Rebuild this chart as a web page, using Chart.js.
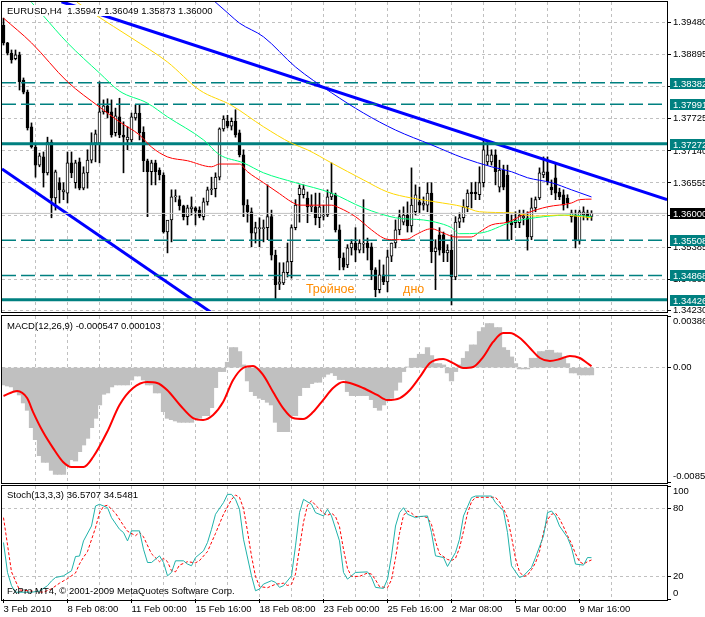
<!DOCTYPE html>
<html>
<head>
<meta charset="utf-8">
<title>EURUSD,H4</title>
<script src="https://cdn.jsdelivr.net/npm/chart.js@4.4.1/dist/chart.umd.min.js"></script>
<style>
  html, body { margin: 0; padding: 0; background: #ffffff; }
  #wrap { position: relative; width: 705px; height: 617px; overflow: hidden; background: #ffffff; }
  #wrap canvas { position: absolute; left: 0; }
</style>
</head>
<body>
<div id="wrap">
  <canvas id="stochChart" width="705" height="134" style="top:483px"></canvas>
  <canvas id="macdChart" width="705" height="172" style="top:312px"></canvas>
  <canvas id="priceChart" width="705" height="320" style="top:0"></canvas>
</div>
<script>
// --- DATA (H4 bars from 3 Feb 2010 16:00) ---
const dateLabels = ['3 Feb 2010', '8 Feb 08:00', '11 Feb 00:00', '15 Feb 16:00', '18 Feb 08:00',
  '23 Feb 00:00', '25 Feb 16:00', '2 Mar 08:00', '5 Mar 00:00', '9 Mar 16:00'];

const openP = [1.3943,1.3911,1.3892,1.3882,1.3889,1.3843,1.3821,1.3758,1.3721,1.3688,
  1.3703,1.3674,1.3730,1.3628,1.3656,1.3639,1.3637,1.3692,1.3656,1.3694,
  1.3646,1.3674,1.3697,1.3728,1.3728,1.3785,1.3796,1.3785,1.3747,1.3776,
  1.3743,1.3734,1.3734,1.3774,1.3783,1.3748,1.3696,1.3676,1.3692,1.3679,
  1.3670,1.3566,1.3588,1.3630,1.3625,1.3614,1.3594,1.3608,1.3610,1.3606,
  1.3594,1.3621,1.3643,1.3645,1.3666,1.3754,1.3768,1.3759,1.3768,1.3747,
  1.3707,1.3615,1.3603,1.3564,1.3572,1.3572,1.3574,1.3594,1.3524,1.3471,
  1.3473,1.3492,1.3512,1.3574,1.3634,1.3634,1.3628,1.3612,1.3612,1.3592,
  1.3595,1.3597,1.3630,1.3634,1.3570,1.3519,1.3506,1.3537,1.3546,1.3533,
  1.3544,1.3546,1.3539,1.3497,1.3461,1.3488,1.3475,1.3522,1.3546,1.3570,
  1.3584,1.3597,1.3577,1.3603,1.3621,1.3615,1.3615,1.3637,1.3530,1.3561,
  1.3561,1.3528,1.3533,1.3484,1.3584,1.3592,1.3612,1.3639,1.3639,1.3634,
  1.3656,1.3694,1.3694,1.3707,1.3648,1.3679,1.3670,1.3584,1.3583,1.3583,
  1.3592,1.3592,1.3557,1.3610,1.3628,1.3670,1.3676,1.3648,1.3665,1.3639,
  1.3634,1.3628,1.3594,1.3597,1.3550,1.3597,1.3601,1.35947];
const highP = [1.3956,1.3912,1.3898,1.3898,1.3894,1.3847,1.3825,1.3765,1.3725,1.3710,
  1.3712,1.3739,1.3734,1.3679,1.3665,1.3656,1.3712,1.3712,1.3697,1.3701,
  1.3685,1.3716,1.3747,1.3752,1.3840,1.3807,1.3809,1.3807,1.3792,1.3810,
  1.3767,1.3758,1.3783,1.3798,1.3798,1.3758,1.3699,1.3697,1.3697,1.3683,
  1.3674,1.3584,1.3643,1.3643,1.3632,1.3615,1.3615,1.3630,1.3612,1.3612,
  1.3628,1.3648,1.3666,1.3674,1.3756,1.3778,1.3779,1.3774,1.3789,1.3752,
  1.3716,1.3625,1.3610,1.3584,1.3592,1.3588,1.3652,1.3606,1.3533,1.3510,
  1.3510,1.3546,1.3579,1.3625,1.3652,1.3652,1.3639,1.3634,1.3637,1.3637,
  1.3615,1.3643,1.3692,1.3637,1.3579,1.3528,1.3543,1.3552,1.3574,1.3552,
  1.3625,1.3555,1.3546,1.3501,1.3515,1.3506,1.3533,1.3546,1.3588,1.3606,
  1.3612,1.3621,1.3683,1.3652,1.3648,1.3630,1.3656,1.3656,1.3552,1.3574,
  1.3566,1.3543,1.3561,1.3594,1.3601,1.3625,1.3643,1.3656,1.3657,1.3685,
  1.3734,1.3730,1.3716,1.3716,1.3697,1.3688,1.3688,1.3597,1.3603,1.3606,
  1.3606,1.3603,1.3628,1.3630,1.3683,1.3703,1.3703,1.3661,1.3692,1.3646,
  1.3643,1.3634,1.3606,1.3606,1.3606,1.3612,1.3606,1.36049];
const lowP = [1.3907,1.3889,1.3874,1.3880,1.3825,1.3818,1.3752,1.3719,1.3666,1.3685,
  1.3648,1.3670,1.3592,1.3606,1.3619,1.3625,1.3619,1.3665,1.3646,1.3643,
  1.3643,1.3646,1.3692,1.3694,1.3692,1.3781,1.3774,1.3739,1.3741,1.3738,
  1.3674,1.3716,1.3730,1.3770,1.3734,1.3676,1.3594,1.3652,1.3652,1.3661,
  1.3564,1.3528,1.3548,1.3621,1.3606,1.3588,1.3579,1.3597,1.3579,1.3592,
  1.3588,1.3615,1.3634,1.3630,1.3661,1.3750,1.3756,1.3752,1.3739,1.3703,
  1.3594,1.3584,1.3539,1.3546,1.3539,1.3548,1.3552,1.3515,1.3442,1.3461,
  1.3470,1.3484,1.3482,1.3570,1.3584,1.3628,1.3583,1.3603,1.3579,1.3574,
  1.3588,1.3594,1.3625,1.3566,1.3497,1.3497,1.3501,1.3524,1.3512,1.3528,
  1.3528,1.3515,1.3479,1.3448,1.3455,1.3470,1.3457,1.3512,1.3537,1.3561,
  1.3579,1.3566,1.3566,1.3597,1.3601,1.3606,1.3603,1.3510,1.3461,1.3524,
  1.3512,1.3512,1.3433,1.3479,1.3574,1.3584,1.3603,1.3610,1.3625,1.3625,
  1.3648,1.3688,1.3688,1.3652,1.3639,1.3643,1.3552,1.3552,1.3574,1.3574,
  1.3579,1.3533,1.3552,1.3603,1.3625,1.3665,1.3652,1.3634,1.3625,1.3625,
  1.3606,1.3610,1.3584,1.3537,1.3544,1.3588,1.3588,1.35873];
const closeP = [1.3911,1.3892,1.3880,1.3889,1.3840,1.3821,1.3756,1.3721,1.3688,1.3705,
  1.3674,1.3730,1.3628,1.3676,1.3643,1.3643,1.3692,1.3674,1.3692,1.3646,
  1.3674,1.3697,1.3728,1.3745,1.3785,1.3796,1.3783,1.3743,1.3778,1.3743,
  1.3739,1.3739,1.3776,1.3783,1.3747,1.3696,1.3676,1.3692,1.3676,1.3670,
  1.3566,1.3588,1.3630,1.3632,1.3614,1.3594,1.3610,1.3612,1.3604,1.3595,
  1.3621,1.3643,1.3645,1.3666,1.3754,1.3772,1.3759,1.3768,1.3743,1.3707,
  1.3615,1.3603,1.3564,1.3574,1.3574,1.3574,1.3594,1.3524,1.3470,1.3475,
  1.3493,1.3512,1.3574,1.3615,1.3646,1.3645,1.3612,1.3614,1.3592,1.3612,
  1.3597,1.3630,1.3637,1.3570,1.3519,1.3502,1.3537,1.3546,1.3533,1.3546,
  1.3546,1.3537,1.3497,1.3461,1.3488,1.3475,1.3521,1.3546,1.3570,1.3594,
  1.3597,1.3577,1.3615,1.3634,1.3615,1.3619,1.3637,1.3530,1.3537,1.3533,
  1.3528,1.3533,1.3484,1.3584,1.3592,1.3612,1.3637,1.3636,1.3636,1.3656,
  1.3716,1.3707,1.3707,1.3676,1.3679,1.3648,1.3583,1.3579,1.3588,1.3597,
  1.3595,1.3557,1.3610,1.3625,1.3674,1.3676,1.3657,1.3643,1.3637,1.3630,
  1.3615,1.3619,1.3601,1.3550,1.3603,1.3603,1.3592,1.36000];

// moving averages, sampled as [bar, price]
const maRed = [[0,1.3956],[7,1.3911],[16,1.3840],[24,1.3794],[29,1.3767],[34,1.3743],[37,1.3721],
  [41,1.3703],[46,1.3696],[52,1.3685],[54,1.3690],[59,1.3690],[61,1.3676],[65,1.3656],[69,1.3636],
  [72,1.3621],[74,1.3615],[82,1.3615],[84,1.3610],[88,1.3594],[92,1.3570],[95,1.3555],[97,1.3552],
  [101,1.3553],[103,1.3561],[107,1.3572],[110,1.3564],[113,1.3557],[117,1.3557],[119,1.3566],
  [122,1.3579],[126,1.3584],[131,1.3601],[136,1.3612],[142,1.3619],[144,1.3625],[147,1.3626]];
const maGreen = [[7,1.3985],[10,1.3960],[16,1.3911],[24,1.3856],[29,1.3823],[36,1.3801],[41,1.3776],
  [50,1.3734],[54,1.3707],[60,1.3692],[65,1.3674],[73,1.3656],[82,1.3637],[90,1.3610],[98,1.3592],
  [105,1.3588],[108,1.3584],[112,1.3574],[114,1.3563],[119,1.3564],[127,1.3584],[135,1.3594],
  [142,1.3597],[147,1.3594]];
const maYellow = [[18.4,1.3985],[23,1.3962],[32,1.3920],[41,1.3876],[49,1.3825],[57,1.3797],
  [65,1.3758],[72,1.3728],[76,1.3716],[82,1.3692],[90,1.3661],[96,1.3639],[102,1.3628],
  [108,1.3621],[115,1.3612],[119,1.3603],[127,1.3601],[133,1.3595],[139,1.3597],[147,1.3592]];
const maBlue = [[52.4,1.3989],[56.6,1.3962],[59,1.3947],[65,1.3922],[73,1.3867],[82,1.3820],
  [90,1.3783],[98,1.3752],[107,1.3725],[115,1.3701],[122,1.3685],[127,1.3676],[131,1.3665],
  [137,1.3656],[142,1.3643],[147,1.3630]];

// drawn objects: trend lines [bar, price] and horizontal levels
const trendUpper = [[14.5,1.3986],[165.875,1.3625]];
const trendLower = [[-0.375,1.3681],[52,1.3419]];
const solidLevels = [1.37272, 1.34426];
const dashedLevels = [1.38382, 1.37991, 1.35508, 1.34868];
const bidPrice = 1.36000;
const priceTicks = [1.39480, 1.38895, 1.38310, 1.37725, 1.37140, 1.36555, 1.35970, 1.35385, 1.34800, 1.34230];
const patternNotes = [{ text: 'Тройное', bar: 75.6, price: 1.3455 }, { text: 'дно', bar: 99.9, price: 1.3455 }];

// MACD(12,26,9): histogram per bar, signal sampled as [bar, value]
const macdHist = [-0.0013,-0.00138,-0.00145,-0.00183,-0.00205,-0.00265,-0.0032,-0.0045,-0.0054,-0.0066,
  -0.0071,-0.0071,-0.0077,-0.0080,-0.0080,-0.0080,-0.0073,-0.0069,-0.0070,-0.0063,
  -0.0058,-0.0053,-0.0045,-0.0038,-0.0028,-0.0020,-0.0019,-0.00145,-0.0013,-0.0013,
  -0.0013,-0.0013,-0.00093,-0.00063,-0.00063,-0.00093,-0.0013,-0.0013,-0.0019,-0.0019,
  -0.0033,-0.0038,-0.0039,-0.0040,-0.0041,-0.0041,-0.0041,-0.0041,-0.0038,-0.0038,
  -0.0036,-0.0036,-0.0030,-0.0015,-0.0003,-0.0003,0.0004,0.0015,0.0015,0.0012,
  0.0002,-0.0010,-0.0018,-0.0021,-0.0023,-0.0024,-0.0026,-0.0028,-0.0041,-0.0048,
  -0.0048,-0.0048,-0.0036,-0.0036,-0.0021,-0.0015,-0.0015,-0.0012,-0.0011,-0.0011,
  -0.0007,-0.0005,-0.0004,-0.0006,-0.0009,-0.0009,-0.0018,-0.0021,-0.0021,-0.0021,
  -0.0021,-0.0021,-0.0024,-0.0030,-0.0032,-0.0028,-0.0025,-0.0023,-0.0017,-0.0011,
  -0.0003,0.00005,0.0007,0.0007,0.0010,0.0010,0.0015,0.0009,0.0003,0.0003,
  0.0002,-0.0004,-0.0010,-0.0003,0.0002,0.0007,0.0012,0.0017,0.0017,0.0027,
  0.0030,0.0033,0.0033,0.0030,0.0030,0.0015,0.0013,0.0008,0.0003,-0.0001,
  -0.0001,-0.0001,0.0007,0.0007,0.0012,0.0012,0.0013,0.0013,0.0011,0.0011,
  0.0008,0.0003,-0.0004,-0.0004,-0.00055,-0.00055,-0.00055,-0.000547];
const macdSignal = [[0,-0.00213],[3.4,-0.00175],[5.9,-0.00228],[7.4,-0.00333],[9.9,-0.00483],
  [12.4,-0.00603],[14.9,-0.00707],[17,-0.00745],[20,-0.00745],[22.4,-0.0067],[25.9,-0.00483],
  [29,-0.0028],[32.4,-0.00153],[35.9,-0.00108],[38.4,-0.00115],[40.9,-0.00168],[44.1,-0.0028],
  [47.4,-0.00378],[49.9,-0.00392],[52.4,-0.00355],[54.9,-0.00258],[57.4,-0.00093],[59.9,-0.00003],
  [62.4,0.00012],[64.9,-0.00055],[67.4,-0.00183],[69.9,-0.00303],[72.4,-0.00378],[74.9,-0.00385],
  [77.4,-0.00333],[79.9,-0.00243],[82.4,-0.00153],[84.9,-0.00108],[86.6,-0.00115],[89.9,-0.00153],
  [93.4,-0.00205],[95.9,-0.00243],[99.1,-0.00228],[101.6,-0.00168],[104.1,-0.0007],[106.6,0.00034],
  [109.9,0.00064],[112.4,0.00034],[114.9,-0.00003],[117.4,0.00005],[119.9,0.00079],[122.4,0.00192],
  [124.9,0.00259],[126.6,0.00259],[129.1,0.00222],[131.6,0.00147],[134.1,0.00072],[136.6,0.00049],
  [139.1,0.00064],[141.6,0.00087],[144.1,0.00072],[145.9,0.00034],[147,0.000103]];
const macdTicks = [0.003865, 0, -0.00857];
const macdTickLabels = ['0.003865', '0.00', '-0.00857'];

// Stoch(13,3,3): %K and %D sampled as [bar, value]
const stochK = [[0,50],[1,23.5],[2,11.8],[3,6],[7,6],[9,7],[11,11.8],[12,16],[13,19],[15,20.5],[17,25],
  [18,37.6],[19,38],[20,51.4],[22,64.6],[23,82.3],[24,83.8],[26,80.8],[27,72],[29,61.7],[30,58.8],
  [31,51.4],[32,60.3],[34,60.3],[35,44],[36,32.3],[37,32.3],[39,38.2],[40,32.3],[41,20.5],[42,23.5],
  [43,33.8],[45,33.8],[46,30.9],[47,29.4],[48,36.7],[50,42.6],[51,50],[52,61.7],[53,75],[55,85.3],
  [56,92.6],[57,92.6],[58,88.2],[59,79.4],[60,52.9],[62,20.5],[63,7.3],[64,8.8],[65,13.2],[67,16.2],
  [68,14.7],[69,10.3],[70,11.8],[72,20.5],[73,47],[74,76.4],[75,88.2],[77,83.8],[78,76.4],[80,73.5],
  [81,79.4],[82,73.5],[84,51.4],[85,23.5],[86,17.6],[88,23.5],[91,24],[92,19],[93,10.3],[95,9.4],
  [96,17.6],[97,38.2],[98,64.6],[99,76.4],[100,80.8],[101,75],[103,72],[104,73],[106,73.5],[107,58.8],
  [108,38.2],[110,36.7],[111,28.8],[113,41.2],[114,52.9],[115,73.5],[117,89.7],[118,91.1],[122,91.1],
  [123,85.3],[125,77.9],[126,58.8],[127,29.4],[129,19],[130,20.5],[132,27.9],[133,36.7],[135,55.8],
  [136,76.4],[137,77.9],[138,73.5],[139,64.6],[141,54.4],[142,45.6],[143,30.9],[145,30],[146,36.7],
  [147,36.57]];
const stochD = [[0,72],[2,24],[4,8],[10,6],[12,9],[14,14],[16,18],[18,23],[19,31],[20,37],[21,42],
  [23,63],[24,76],[25,82],[26,83],[28,76],[30,65],[31,60],[33,56],[34,59],[35,55],[37,40],[39,33],
  [40,36],[41,33],[42,25],[43,24],[44,30],[46,33],[48,32],[49,34],[51,42],[53,58],[55,75],[57,88],
  [58,92],[59,90],[60,80],[61,60],[62,38],[63,20],[64,11],[66,10],[68,13],[70,14],[71,12],[72,13],
  [73,22],[74,45],[75,68],[76,83],[77,87],[78,83],[80,76],[81,74],[82,76],[83,73],[84,64],[85,44],
  [86,27],[87,20],[89,20],[91,23],[92,22],[93,17],[94,11],[96,10],[97,17],[98,36],[99,58],[100,74],
  [101,78],[102,76],[103,73],[105,73],[106,72],[107,66],[108,51],[109,40],[111,35],[112,34],[113,36],
  [114,45],[115,60],[116,76],[117,86],[118,90],[123,90],[124,86],[125,80],[126,72],[127,55],[128,36],
  [129,24],[130,20],[131,21],[132,26],[133,32],[134,42],[135,59],[136,70],[137,75],[138,76],[139,71],
  [140,64],[141,56],[142,49],[143,40],[144,33],[145,31],[146,33],[147,34.55]];
const stochTicks = [100, 80, 20, 0];

const priceTitle = 'EURUSD,H4  1.35947 1.36049 1.35873 1.36000';
const macdTitle = 'MACD(12,26,9) -0.000547 0.000103';
const stochTitle = 'Stoch(13,3,3) 36.5707 34.5481';
const footerText = 'FxPro MT4, © 2001-2009 MetaQuotes Software Corp.';

// --- SHARED SETTINGS ---
const FONT = '"Liberation Sans", Arial, sans-serif';
const FONT_SIZE = 9.5;
const GRID = '#c0c0c0';
const NONE = 'rgba(0,0,0,0)';
const TEAL = '#008080';
const X_MIN = -0.375, X_MAX = 165.875;
const GRID_STEP = 8, LABEL_STEP = 16;

Chart.defaults.font.family = FONT;
Chart.defaults.font.size = FONT_SIZE;
Chart.defaults.color = '#000';

const gridBars = [];
for (let b = 0; b <= X_MAX; b += GRID_STEP) gridBars.push(b);

const pts = arr => arr.map(([x, y]) => ({ x, y }));

function xAxis(withLabels) {
  return {
    type: 'linear', min: X_MIN, max: X_MAX, offset: false,
    afterBuildTicks: s => { s.ticks = gridBars.map(v => ({ value: v })); },
    afterFit: s => { s.height = withLabels ? 18 : 0; s.paddingLeft = 0; s.paddingRight = 0; },
    grid: {
      offset: false,
      color: c => (c.tick && c.tick.value > 0 ? GRID : NONE),
      drawTicks: withLabels, tickLength: 4,
      tickColor: c => (c.tick && c.tick.value % LABEL_STEP === 0 ? '#000' : NONE)
    },
    border: { display: false, dash: [3, 3] },
    ticks: {
      display: withLabels, autoSkip: false, maxRotation: 0, align: 'start', padding: 1,
      callback: v => (v % LABEL_STEP === 0 ? dateLabels[v / LABEL_STEP] : '')
    }
  };
}

function yAxis(min, max, tickVals, label, showGrid) {
  return {
    position: 'right', min, max, beginAtZero: false,
    afterBuildTicks: s => { s.ticks = tickVals.map(v => ({ value: v })); },
    afterFit: s => { s.width = 38; s.paddingTop = 0; s.paddingBottom = 0; },
    grid: {
      color: c => (c.tick && showGrid(c.tick.value) ? GRID : NONE),
      tickLength: 4, tickColor: '#000'
    },
    border: { display: false, dash: [3, 3] },
    ticks: { padding: 2, autoSkip: false, callback: label }
  };
}

function baseOptions(padding, x, y, plugin) {
  return {
    responsive: false, animation: false, devicePixelRatio: 1, events: [],
    layout: { padding },
    plugins: { legend: { display: false }, tooltip: { enabled: false } },
    scales: { x, y }
  };
}

function frame(ctx, area) {
  ctx.save();
  ctx.strokeStyle = '#000';
  ctx.lineWidth = 1;
  ctx.strokeRect(area.left - 0.5, area.top - 0.5, area.right - area.left + 1, area.bottom - area.top + 2);
  ctx.restore();
}

function text(ctx, str, x, y, color, size, bg) {
  ctx.save();
  ctx.font = size + 'px ' + FONT;
  if (bg) {
    ctx.fillStyle = bg;
    ctx.fillRect(x - 2, y - size + 0.5, ctx.measureText(str).width + 4, size + 1.5);
  }
  ctx.fillStyle = color;
  ctx.textBaseline = 'alphabetic';
  ctx.fillText(str, x, y);
  ctx.restore();
}

function lineSet(data, color, width, extra) {
  return Object.assign({
    type: 'line', data: pts(data), borderColor: color, borderWidth: width,
    pointRadius: 0, fill: false, order: 0
  }, extra || {});
}

function levelSet(v, color, width, dash) {
  return lineSet([[X_MIN, v], [X_MAX, v]], color, width, { borderDash: dash || [] });
}

// --- PRICE PANEL ---
const bars = openP.map((o, i) => i);
const priceDatasets = [
  {
    type: 'bar', data: bars.map(i => ({ x: i, y: [lowP[i], highP[i]] })),
    backgroundColor: '#000', barThickness: 1, grouped: false, order: 3
  },
  {
    type: 'bar', data: bars.map(i => ({ x: i, y: [openP[i], closeP[i]] })),
    backgroundColor: bars.map(i => (closeP[i] >= openP[i] ? '#fff' : '#000')),
    borderColor: '#000', borderWidth: 1, borderSkipped: false,
    barThickness: 3, grouped: false, minBarLength: 1, order: 2
  },
  levelSet(bidPrice, GRID, 1),
  lineSet(maBlue, '#0000ff', 1, { cubicInterpolationMode: 'monotone' }),
  lineSet(maYellow, '#ffd700', 1, { cubicInterpolationMode: 'monotone' }),
  lineSet(maGreen, '#00ff7f', 1, { cubicInterpolationMode: 'monotone' }),
  lineSet(maRed, '#ff0000', 1, { cubicInterpolationMode: 'monotone' }),
  ...dashedLevels.map(v => levelSet(v, TEAL, 1.5, [14, 5])),
  ...solidLevels.map(v => levelSet(v, TEAL, 3)),
  lineSet(trendUpper, '#0000ff', 3),
  lineSet(trendLower, '#0000ff', 3)
];

const priceDecor = {
  id: 'priceDecor',
  afterDraw(chart) {
    const ctx = chart.ctx, xs = chart.scales.x, ys = chart.scales.y;
    patternNotes.forEach(n => text(ctx, n.text, xs.getPixelForValue(n.bar), ys.getPixelForValue(n.price), '#ff8c00', 12.5));
    text(ctx, priceTitle, 7, 14, '#000', FONT_SIZE, '#fff');
    const box = (v, color) => {
      const y = Math.round(ys.getPixelForValue(v));
      ctx.fillStyle = color;
      ctx.fillRect(670, y - 5, 35, 11);
      text(ctx, v.toFixed(5), 673, y + 3.5, '#fff', FONT_SIZE);
    };
    dashedLevels.concat(solidLevels).forEach(v => box(v, TEAL));
    box(bidPrice, '#000');
    frame(ctx, chart.chartArea);
  }
};

new Chart(document.getElementById('priceChart'), {
  type: 'bar',
  data: { datasets: priceDatasets },
  options: baseOptions({ left: 2, top: 2, right: 0, bottom: 9 }, xAxis(false),
    yAxis(1.3422, 1.39855, priceTicks, v => v.toFixed(5), () => true)),
  plugins: [priceDecor]
});

// --- MACD PANEL ---
const edgeLabel = (text, isTop, isBottom) => (isTop ? ['', text] : isBottom ? [text, ''] : text);

new Chart(document.getElementById('macdChart'), {
  type: 'bar',
  data: {
    datasets: [
      lineSet(macdSignal, '#ff0000', 2, { cubicInterpolationMode: 'monotone' }),
      {
        type: 'bar', data: macdHist.map((v, i) => ({ x: i, y: v })),
        backgroundColor: GRID, barThickness: 4.6, grouped: false, order: 2
      }
    ]
  },
  options: baseOptions({ left: 2, top: 4, right: 0, bottom: 2 }, xAxis(false),
    yAxis(-0.00857, 0.003865, macdTicks,
      v => { const k = macdTicks.indexOf(v); return edgeLabel(macdTickLabels[k], k === 0, k === macdTicks.length - 1); },
      v => v === 0)),
  plugins: [{
    id: 'macdDecor',
    afterDraw(chart) {
      text(chart.ctx, macdTitle, 7, 17, '#000', FONT_SIZE);
      frame(chart.ctx, chart.chartArea);
    }
  }]
});

// --- STOCHASTIC PANEL ---
new Chart(document.getElementById('stochChart'), {
  type: 'line',
  data: {
    datasets: [
      lineSet(stochK, '#20b2aa', 1),
      lineSet(stochD, '#ff0000', 1, { borderDash: [3, 2] })
    ]
  },
  options: baseOptions({ left: 2, top: 3, right: 0, bottom: 0 }, xAxis(true),
    yAxis(0, 100, stochTicks,
      v => edgeLabel(String(v), v === 100, v === 0),
      v => v === 80 || v === 20)),
  plugins: [{
    id: 'stochDecor',
    afterDraw(chart) {
      text(chart.ctx, stochTitle, 7, 15, '#000', FONT_SIZE);
      text(chart.ctx, footerText, 7, 111, '#000', FONT_SIZE);
      frame(chart.ctx, chart.chartArea);
    }
  }]
});
</script>
</body>
</html>
